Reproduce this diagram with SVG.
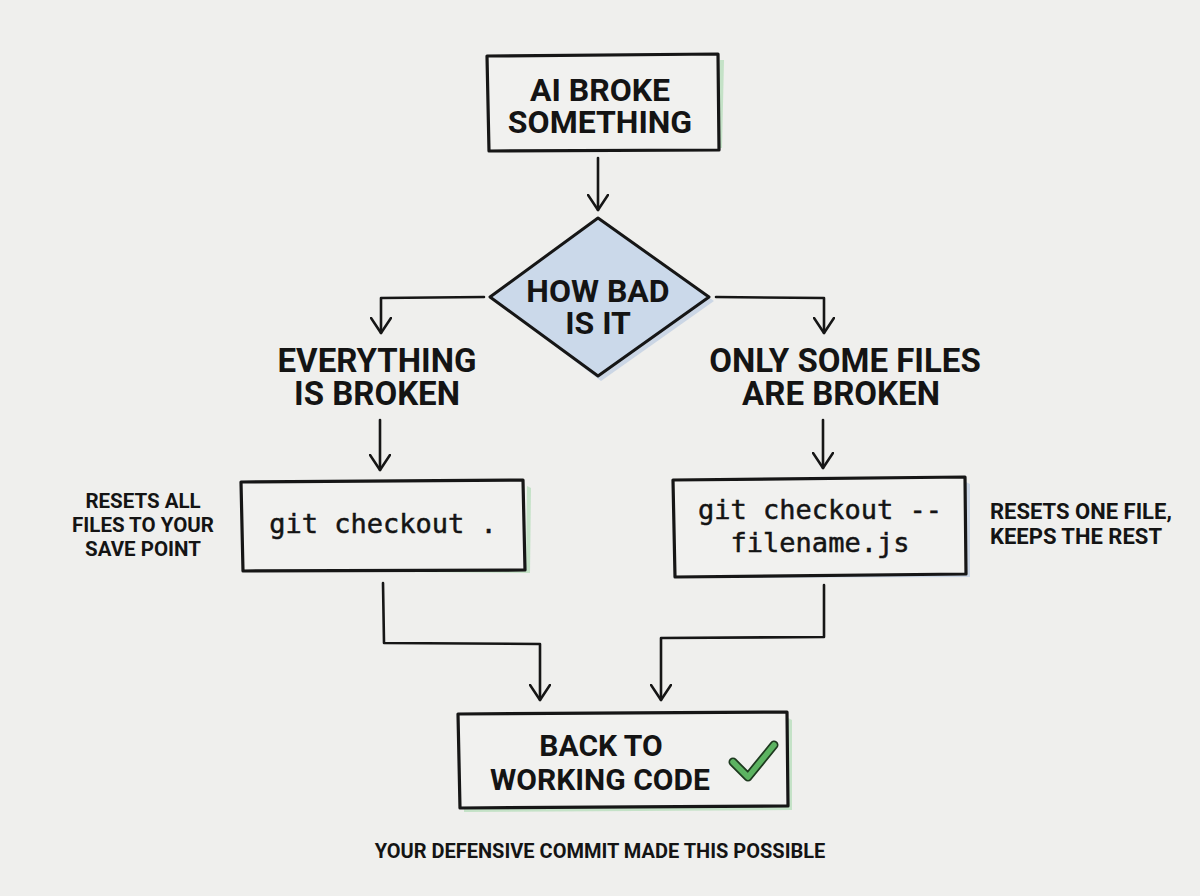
<svg xmlns="http://www.w3.org/2000/svg" width="1200" height="896" viewBox="0 0 1200 896">
<defs>
<marker id="arr" viewBox="0 0 18 22" refX="16" refY="11" markerWidth="18" markerHeight="22" markerUnits="userSpaceOnUse" orient="auto">
<path d="M1,1 L16,11 L1,21" fill="none" stroke="#161616" stroke-width="2.6" stroke-linecap="round" stroke-linejoin="round"/>
</marker>
</defs>
<style>
.bg{fill:#efefed}
.box{fill:#f1f1ef;stroke:#161616;stroke-width:3.2;stroke-linejoin:round}
.dia{fill:#cbd9ea;stroke:#161616;stroke-width:3;stroke-linejoin:round}
.shg{fill:#bfe0c2;opacity:0.9}
.shb{fill:#c7d3e3;opacity:0.9}
.t{font-family:Roboto,"Liberation Sans",sans-serif;font-weight:700;fill:#141414;text-anchor:middle}
.big{font-size:32px}
.mid{font-size:33px}
.sm{font-size:20.5px}
.rn{font-size:22px;text-anchor:start}
.code{font-family:"DejaVu Sans Mono","Liberation Mono",monospace;font-size:27px;fill:#141414;stroke:#141414;stroke-width:0.5;text-anchor:middle}
.ln{fill:none;stroke:#161616;stroke-width:2.6;stroke-linecap:round;stroke-linejoin:round}
</style>
<rect class="bg" x="0" y="0" width="1200" height="896"/>

<g id="start">
<path class="shg" d="M492,150 L722,148 L724,60 L720,60 L718,146 L492,146 Z"/>
<path class="box" d="M487,56 L718,54 L719,150 L489,151 Z"/>
<text class="t big" x="600" y="101">AI BROKE</text>
<text class="t big" x="600" y="133">SOMETHING</text>
</g>

<g id="decision">
<path class="shb" d="M598,222 L714,301 L601,381 L496,301 Z"/>
<path class="dia" d="M598,218 L709,297 L598,376 L490,297 Z"/>
<text class="t big" x="598" y="302">HOW BAD</text>
<text class="t big" x="598" y="334">IS IT</text>
</g>

<g id="everything">
<text class="t mid" x="377" y="372">EVERYTHING</text>
<text class="t mid" x="377" y="405">IS BROKEN</text>
</g>

<g id="some">
<text class="t mid" x="845" y="372">ONLY SOME FILES</text>
<text class="t mid" x="841" y="405">ARE BROKEN</text>
</g>

<g id="checkout-all">
<path class="shg" d="M246,571 L530,573 L531,488 L527,486 L526,568 L246,567 Z"/>
<path class="box" d="M241,482 L523,480 L525,570 L243,571 Z"/>
<text class="code" x="383" y="533">git checkout .</text>
</g>

<g id="note-all">
<text class="t sm" x="143" y="508">RESETS ALL</text>
<text class="t sm" x="143" y="532">FILES TO YOUR</text>
<text class="t sm" x="143" y="556">SAVE POINT</text>
</g>

<g id="checkout-file">
<path class="shb" d="M678,578 L970,577 L970,484 L966,482 L965,574 L678,575 Z"/>
<path class="box" d="M673,480 L965,477 L966,574 L675,577 Z"/>
<text class="code" x="820" y="519">git checkout --</text>
<text class="code" x="820" y="552">filename.js</text>
</g>

<g id="note-file">
<text class="t rn" x="990" y="519">RESETS ONE FILE,</text>
<text class="t rn" x="990" y="544">KEEPS THE REST</text>
</g>

<g id="done">
<path class="shg" d="M464,812 L792,810 L792,720 L788,718 L787,806 L464,808 Z"/>
<path class="box" d="M458,714 L787,712 L788,806 L460,808 Z"/>
<text class="t" x="601" y="756" style="font-size:30px">BACK TO</text>
<text class="t" x="600" y="790" style="font-size:30px">WORKING CODE</text>
<path d="M733,762 L748,777 L774,745" fill="none" stroke="#1e3a1f" stroke-width="9" stroke-linecap="round" stroke-linejoin="round"/>
<path d="M733,762 L748,777 L774,745" fill="none" stroke="#5cb361" stroke-width="5.5" stroke-linecap="round" stroke-linejoin="round"/>
</g>

<g id="caption">
<text class="t" x="600" y="858" style="font-size:20px">YOUR DEFENSIVE COMMIT MADE THIS POSSIBLE</text>
</g>

<g id="connectors">
<path class="ln" d="M598,158 L598,210" marker-end="url(#arr)"/>
<path class="ln" d="M484,297 L381,298 L381,333" marker-end="url(#arr)"/>
<path class="ln" d="M716,297 L824,298 L824,333" marker-end="url(#arr)"/>
<path class="ln" d="M380,420 L380,470" marker-end="url(#arr)"/>
<path class="ln" d="M823,420 L823,468" marker-end="url(#arr)"/>
<path class="ln" d="M383,583 L384,643 L540,644 L540,700" marker-end="url(#arr)"/>
<path class="ln" d="M824,585 L824,637 L661,638 L661,700" marker-end="url(#arr)"/>
</g>
</svg>
